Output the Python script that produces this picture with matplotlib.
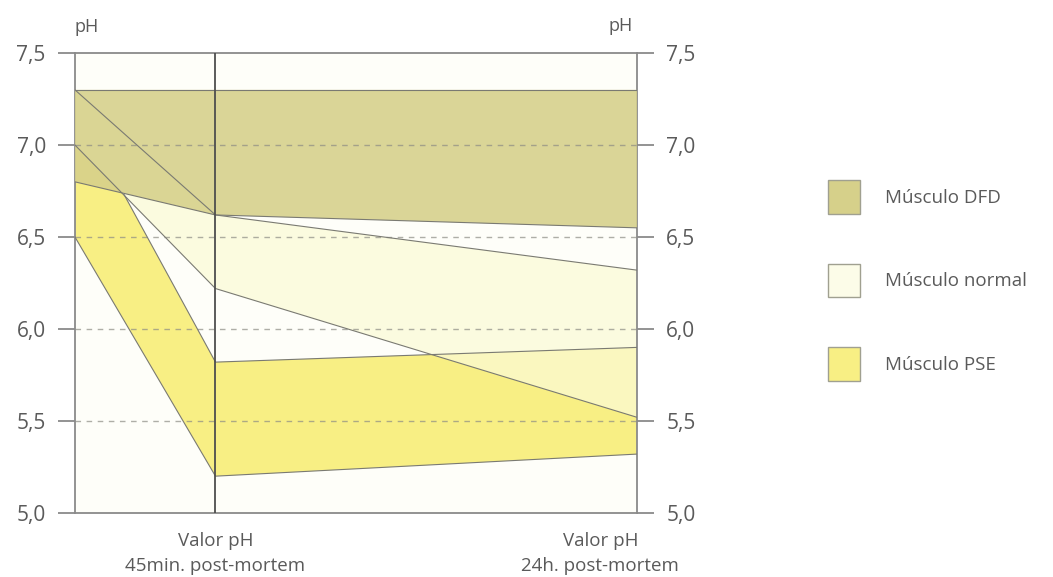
import matplotlib
matplotlib.use("Agg")
import matplotlib.pyplot as plt
from matplotlib.patches import Patch
import numpy as np

plt.rcParams['font.family'] = ['Open Sans', 'DejaVu Sans']

# x positions: start, 45 min post-mortem, 24 h post-mortem
x_pts = [0, 1, 4]

dfd_top = [7.3, 7.3, 7.3]
dfd_bottom = [6.8, 6.62, 6.55]

normal_top = [7.3, 6.62, 6.32]
normal_bottom = [7.0, 6.22, 5.52]

# PSE upper edge has a kink where it meets the normal lower line
pse_top_x = [0, 0.35, 1, 4]
pse_top = [7.0, 6.73, 5.82, 5.9]
pse_bottom = [6.5, 5.2, 5.32]

y_ticks = [5.0, 5.5, 6.0, 6.5, 7.0, 7.5]
y_labels = ['5,0', '5,5', '6,0', '6,5', '7,0', '7,5']
grid_levels = [5.5, 6.0, 6.5, 7.0]

x_label_pos = [1, 3.74]
x_labels = ['Valor pH\n45min. post-mortem', 'Valor pH\n24h. post-mortem']

legend_names = ['Músculo DFD', 'Músculo normal', 'Músculo PSE']

c_dfd = '#d6d08a'
c_normal = '#fbfbd6'
c_pse = '#f8ef84'
edge = '#7a7a72'
txt = '#5a5a5a'

fig = plt.figure(figsize=(10.53, 5.77), dpi=100)
ax = fig.add_axes([0.0712, 0.111, 0.5337, 0.797])
ax.set_facecolor('#fefef9')

# PSE band
px = list(pse_top_x) + list(x_pts[::-1])
py = list(pse_top) + list(pse_bottom[::-1])
ax.fill(px, py, facecolor=c_pse, edgecolor='none', zorder=1)
ax.plot(pse_top_x[1:], pse_top[1:], color=edge, lw=0.8, zorder=5)
ax.plot(x_pts, pse_bottom, color=edge, lw=0.8, zorder=5)

# normal band
ax.fill_between(x_pts, normal_bottom, normal_top, facecolor=c_normal,
                alpha=0.72, edgecolor='none', zorder=2)
ax.plot(x_pts, normal_top, color=edge, lw=0.8, zorder=5)
ax.plot(x_pts, normal_bottom, color=edge, lw=0.8, zorder=5)

# DFD band
ax.fill_between(x_pts, dfd_bottom, dfd_top, facecolor=c_dfd,
                alpha=0.88, edgecolor='none', zorder=3)
ax.plot(x_pts, dfd_top, color=edge, lw=0.8, zorder=5)
ax.plot(x_pts, dfd_bottom, color=edge, lw=0.8, zorder=5)

for g in grid_levels:
    ax.axhline(g, color='#8c8c84', lw=1.0, ls=(0, (4, 4)), alpha=0.7, zorder=4)

ax.axvline(1, color='#4e4e4e', lw=1.3, zorder=6)

ax.set_xlim(0, 4)
ax.set_ylim(5.0, 7.5)

for s in ax.spines.values():
    s.set_color('#8a8a8a')
    s.set_linewidth(1.3)

ax.set_yticks(y_ticks)
ax.set_yticklabels(y_labels)
ax.tick_params(axis='y', left=True, right=True, labelleft=True, labelright=True,
               direction='out', length=12, width=1.3, color='#8a8a8a',
               labelsize=15, labelcolor=txt, pad=9)
ax.set_xticks(x_label_pos)
ax.set_xticklabels(x_labels, fontsize=13.5, color=txt, linespacing=1.5)
ax.tick_params(axis='x', length=0, pad=14)

ax.text(0.02, 1.057, 'pH', transform=ax.transAxes, ha='center', va='center',
        fontsize=13, color=txt)
ax.text(0.971, 1.059, 'pH', transform=ax.transAxes, ha='center', va='center',
        fontsize=13, color=txt)

handles = [Patch(facecolor=c_dfd, edgecolor='#a0a090', lw=1.0),
           Patch(facecolor='#fcfce8', edgecolor='#a0a090', lw=1.0),
           Patch(facecolor=c_pse, edgecolor='#a0a090', lw=1.0)]
fig.legend(handles, legend_names, loc='upper left', bbox_to_anchor=(0.786, 0.688),
           frameon=False, fontsize=13.5, handlelength=1.75, handleheight=2.4,
           labelspacing=2.65, handletextpad=1.3, borderpad=0, borderaxespad=0,
           labelcolor=txt)

fig.savefig('out.png', dpi=100, facecolor='white')
